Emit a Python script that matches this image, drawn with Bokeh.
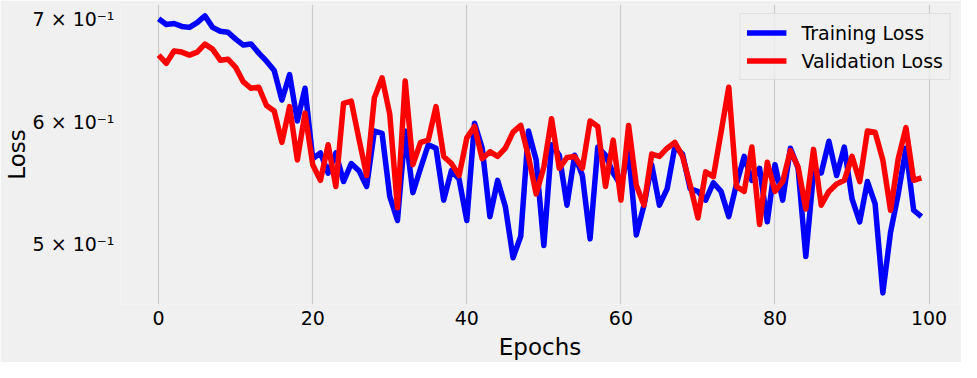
from bokeh.plotting import figure
from bokeh.models import FixedTicker, Range1d
from bokeh.embed import file_html
from bokeh.resources import INLINE

epochs = list(range(100))

training_loss = [
    0.700, 0.694, 0.695, 0.692, 0.691, 0.696, 0.703, 0.691, 0.687, 0.686,
    0.679, 0.673, 0.674, 0.665, 0.657, 0.648, 0.620, 0.644, 0.601, 0.631,
    0.568, 0.573, 0.556, 0.573, 0.549, 0.564, 0.558, 0.545, 0.592, 0.590,
    0.537, 0.518, 0.592, 0.540, 0.560, 0.580, 0.577, 0.534, 0.558, 0.551,
    0.518, 0.599, 0.577, 0.521, 0.550, 0.529, 0.490, 0.506, 0.592, 0.567,
    0.499, 0.580, 0.571, 0.530, 0.571, 0.554, 0.504, 0.578, 0.571, 0.556,
    0.546, 0.574, 0.507, 0.530, 0.563, 0.530, 0.543, 0.578, 0.572, 0.543,
    0.541, 0.534, 0.548, 0.541, 0.521, 0.547, 0.570, 0.550, 0.560, 0.517,
    0.563, 0.534, 0.577, 0.560, 0.491, 0.556, 0.556, 0.583, 0.554, 0.578,
    0.535, 0.517, 0.549, 0.531, 0.465, 0.509, 0.539, 0.577, 0.526, 0.521,
]

validation_loss = [
    0.663, 0.655, 0.667, 0.666, 0.663, 0.666, 0.674, 0.669, 0.658, 0.659,
    0.651, 0.637, 0.631, 0.632, 0.615, 0.610, 0.582, 0.614, 0.567, 0.608,
    0.563, 0.550, 0.580, 0.545, 0.617, 0.619, 0.585, 0.554, 0.622, 0.641,
    0.607, 0.528, 0.638, 0.563, 0.582, 0.584, 0.614, 0.570, 0.564, 0.554,
    0.586, 0.596, 0.568, 0.574, 0.570, 0.577, 0.591, 0.597, 0.570, 0.539,
    0.561, 0.603, 0.560, 0.569, 0.570, 0.560, 0.601, 0.596, 0.545, 0.584,
    0.534, 0.597, 0.546, 0.530, 0.572, 0.570, 0.577, 0.582, 0.570, 0.546,
    0.520, 0.557, 0.553, 0.591, 0.632, 0.545, 0.541, 0.578, 0.515, 0.565,
    0.541, 0.549, 0.575, 0.561, 0.527, 0.576, 0.530, 0.541, 0.547, 0.550,
    0.570, 0.549, 0.592, 0.591, 0.567, 0.526, 0.568, 0.595, 0.550, 0.552,
]

x_ticks = [0, 20, 40, 60, 80, 100]
y_ticks = [0.5, 0.6, 0.7]
y_tick_labels = ["5 × 10⁻¹", "6 × 10⁻¹", "7 × 10⁻¹"]

BG = "#f0f0f0"
FONT = "DejaVu Sans"

p = figure(
    width=961, height=362,
    y_axis_type="log",
    x_range=Range1d(-4.95, 103.95),
    y_range=Range1d(0.457, 0.715),
    output_backend="svg",
    toolbar_location=None,
    min_border_left=118, min_border_right=2,
    min_border_top=4, min_border_bottom=57,
)
p.background_fill_color = BG
p.border_fill_color = BG
p.outline_line_color = None

p.line(epochs, training_loss, color="#0000ff", line_width=5.5,
       line_join="round", legend_label="Training Loss")
p.line(epochs, validation_loss, color="#ff0000", line_width=5.5,
       line_join="round", legend_label="Validation Loss")

# axes
p.xaxis.ticker = FixedTicker(ticks=x_ticks)
p.yaxis.ticker = FixedTicker(ticks=y_ticks)
p.yaxis.major_label_overrides = {t: l for t, l in zip(y_ticks, y_tick_labels)}
p.xaxis.axis_label = "Epochs"
p.yaxis.axis_label = "Loss"
for ax in (p.xaxis, p.yaxis):
    ax.axis_line_color = None
    ax.major_tick_line_color = None
    ax.minor_tick_line_color = None
    ax.major_tick_out = 0
    ax.major_tick_in = 0
    ax.major_label_text_font = FONT
    ax.major_label_text_font_size = "19px"
    ax.major_label_text_color = "#000000"
    ax.axis_label_text_font = FONT
    ax.axis_label_text_font_size = "23px"
    ax.axis_label_text_font_style = "normal"
    ax.axis_label_text_color = "#000000"
p.xaxis.major_label_standoff = 6
p.xaxis.axis_label_standoff = 6
p.yaxis.major_label_standoff = 6
p.yaxis.axis_label_standoff = 0

p.xgrid.grid_line_color = "#cbcbcb"
p.xgrid.grid_line_width = 1.2
p.ygrid.grid_line_color = None

leg = p.legend[0]
leg.location = "top_right"
leg.margin = 9
leg.padding = 6
leg.spacing = 3
leg.glyph_width = 40
leg.glyph_height = 25
leg.label_height = 25
leg.label_standoff = 15
leg.label_text_font = FONT
leg.label_text_font_size = "19px"
leg.label_text_color = "#000000"
leg.background_fill_color = BG
leg.background_fill_alpha = 0.8
leg.border_line_color = "#d0d0d0"
leg.border_line_width = 1

open("out.html", "w").write(file_html(p, INLINE))
